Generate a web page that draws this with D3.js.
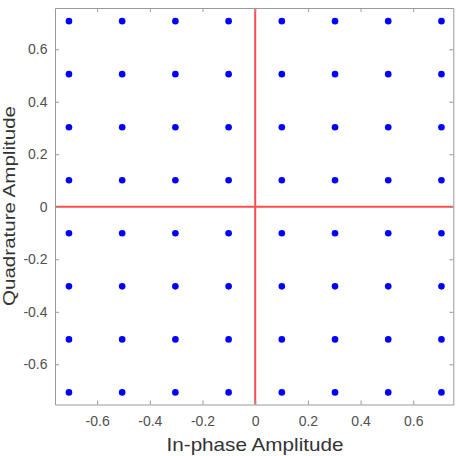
<!DOCTYPE html>
<html>
<head>
<meta charset="utf-8">
<script src="https://cdn.jsdelivr.net/npm/d3@7"></script>
<style>
  html, body { margin: 0; padding: 0; background: #fff; }
  svg { display: block; }
  text { font-family: "Liberation Sans", Arial, sans-serif; }
</style>
</head>
<body>
<svg id="chart" width="456" height="456"></svg>
<script>
// 64-QAM constellation levels (in-phase and quadrature share the same grid)
const iLevels = [-0.707, -0.505, -0.303, -0.101, 0.101, 0.303, 0.505, 0.707];
const qLevels = [-0.707, -0.505, -0.303, -0.101, 0.101, 0.303, 0.505, 0.707];
const xTicks = [-0.6, -0.4, -0.2, 0, 0.2, 0.4, 0.6];
const yTicks = [-0.6, -0.4, -0.2, 0, 0.2, 0.4, 0.6];
const xLimits = [-0.760, 0.752];
const yLimits = [-0.753, 0.757];

const points = [];
iLevels.forEach(i => qLevels.forEach(q => points.push({ i, q })));

const svg = d3.select("#chart");
const plotLeft = 55, plotRight = 453.3, plotTop = 8, plotBottom = 404.5;

const x = d3.scaleLinear().domain(xLimits).range([plotLeft, plotRight]);
const y = d3.scaleLinear().domain(yLimits).range([plotBottom, plotTop]);

const axisColor = "#9a9a9a";
const textColor = "#505050";
// plain hyphen for negative tick labels
const fmt = d => d === 0 ? "0" : (d < 0 ? "-" : "") + Math.abs(d).toFixed(1);

// reference lines through the origin
svg.append("line")
  .attr("x1", x(0)).attr("x2", x(0)).attr("y1", plotTop).attr("y2", plotBottom)
  .attr("stroke", "#ff4d4d").attr("stroke-width", 2);
svg.append("line")
  .attr("x1", plotLeft).attr("x2", plotRight).attr("y1", y(0)).attr("y2", y(0))
  .attr("stroke", "#ff4d4d").attr("stroke-width", 2);

// constellation points
svg.append("g").selectAll("circle").data(points).join("circle")
  .attr("cx", d => x(d.i)).attr("cy", d => y(d.q))
  .attr("r", 3.3).attr("fill", "#0000ff");

// axes with inward ticks, mirrored on top and right
function styleAxis(g) {
  g.select(".domain").attr("stroke", axisColor);
  g.selectAll(".tick line").attr("stroke", axisColor);
  g.selectAll(".tick text").attr("fill", textColor).attr("font-size", 14);
}
svg.append("g").attr("transform", `translate(0,${plotBottom})`)
  .call(d3.axisBottom(x).tickValues(xTicks).tickFormat(fmt).tickSizeInner(-4).tickSizeOuter(0).tickPadding(12))
  .call(styleAxis);
svg.append("g").attr("transform", `translate(${plotLeft},0)`)
  .call(d3.axisLeft(y).tickValues(yTicks).tickFormat(fmt).tickSizeInner(-4).tickSizeOuter(0).tickPadding(7.5))
  .call(styleAxis);
svg.append("g").attr("transform", `translate(0,${plotTop})`)
  .call(d3.axisTop(x).tickValues(xTicks).tickFormat("").tickSizeInner(-4).tickSizeOuter(0))
  .call(styleAxis);
svg.append("g").attr("transform", `translate(${plotRight},0)`)
  .call(d3.axisRight(y).tickValues(yTicks).tickFormat("").tickSizeInner(-4).tickSizeOuter(0))
  .call(styleAxis);

// axis titles
svg.append("text")
  .attr("x", 255).attr("y", 451)
  .attr("text-anchor", "middle").attr("font-size", 18.5).attr("fill", "#333")
  .attr("textLength", 177).attr("lengthAdjust", "spacingAndGlyphs")
  .text("In-phase Amplitude");
svg.append("text")
  .attr("transform", `translate(15,206) rotate(-90)`)
  .attr("text-anchor", "middle").attr("font-size", 16.5).attr("fill", "#333")
  .attr("textLength", 200).attr("lengthAdjust", "spacingAndGlyphs")
  .text("Quadrature Amplitude");
</script>
</body>
</html>
